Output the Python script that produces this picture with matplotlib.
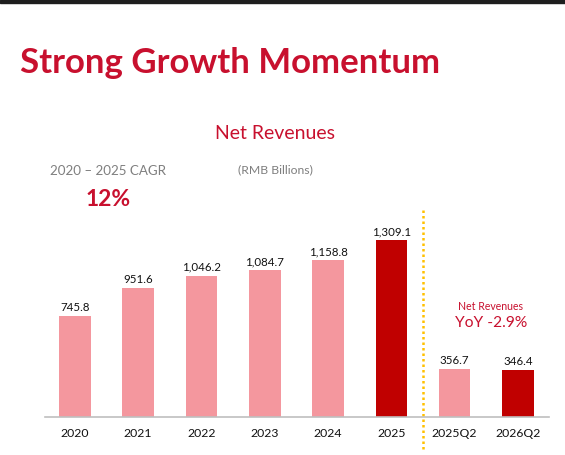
import matplotlib.pyplot as plt
import matplotlib.transforms as mtransforms
from matplotlib.patches import Rectangle

categories = ['2020', '2021', '2022', '2023', '2024', '2025', '2025Q2', '2026Q2']
revenues = [745.8, 951.6, 1046.2, 1084.7, 1158.8, 1309.1, 356.7, 346.4]
labels = ['745.8', '951.6', '1,046.2', '1,084.7', '1,158.8', '1,309.1', '356.7', '346.4']
highlight = ['2025', '2026Q2']

pink = '#F4979E'
dark = '#C00000'
red = '#C8102E'
gray = '#7F7F7F'

plt.rcParams['font.family'] = ['Lato', 'DejaVu Sans']

fig = plt.figure(figsize=(5.65, 4.55), dpi=100)
fig.patches.append(Rectangle((0, 1 - 3 / 455), 1, 3 / 455, transform=fig.transFigure,
                             color='#1E1E1E', zorder=0))

ax = fig.add_axes([45 / 565, 38 / 455, 504 / 565, 217 / 455])
x = list(range(len(categories)))
colors = [dark if c in highlight else pink for c in categories]
bars = ax.bar(x, revenues, width=0.5, color=colors)
for b, lab in zip(bars, labels):
    ax.text(b.get_x() + b.get_width() / 2, b.get_height() + 22, lab,
            ha='center', va='bottom', fontsize=8.3, color='#111111')

ax.set_xlim(-0.47, 7.49)
ax.set_ylim(0, 1605)
ax.set_xticks(x)
ax.set_xticklabels(categories, fontsize=8.8, color='#111111')
ax.tick_params(axis='x', length=0, pad=8)
ax.set_yticks([])
for s in ['top', 'right', 'left']:
    ax.spines[s].set_visible(False)
ax.spines['bottom'].set_color('#BFBFBF')
ax.spines['bottom'].set_linewidth(1.2)

trans = mtransforms.blended_transform_factory(ax.transData, ax.transAxes)
ax.plot([5.5, 5.5], [0.954, -0.161], transform=trans, clip_on=False,
        color='#FFC000', linestyle=(0, (1, 1.2)), linewidth=1.8)

# header texts
fig.text(20 / 565, 1 - 63 / 455, 'Strong Growth Momentum', fontsize=25,
         fontweight='bold', color=red, va='center', ha='left')
fig.text(275 / 565, 1 - 133 / 455, 'Net Revenues', fontsize=14, color=red,
         va='center', ha='center')
fig.text(275 / 565, 1 - 170 / 455, '(RMB Billions)', fontsize=8.8, color=gray,
         va='center', ha='center')
fig.text(108 / 565, 1 - 171 / 455, '2020 \u2013 2025 CAGR', fontsize=9.6, color=gray,
         va='center', ha='center')
fig.text(108 / 565, 1 - 199 / 455, '12%', fontsize=16.5, fontweight='bold', color=red,
         va='center', ha='center')
fig.text(491 / 565, 1 - 306 / 455, 'Net Revenues', fontsize=7.6, color=red,
         va='center', ha='center')
fig.text(491 / 565, 1 - 323 / 455, 'YoY -2.9%', fontsize=11.2, color=red,
         va='center', ha='center')

fig.savefig('out.png', dpi=100)
